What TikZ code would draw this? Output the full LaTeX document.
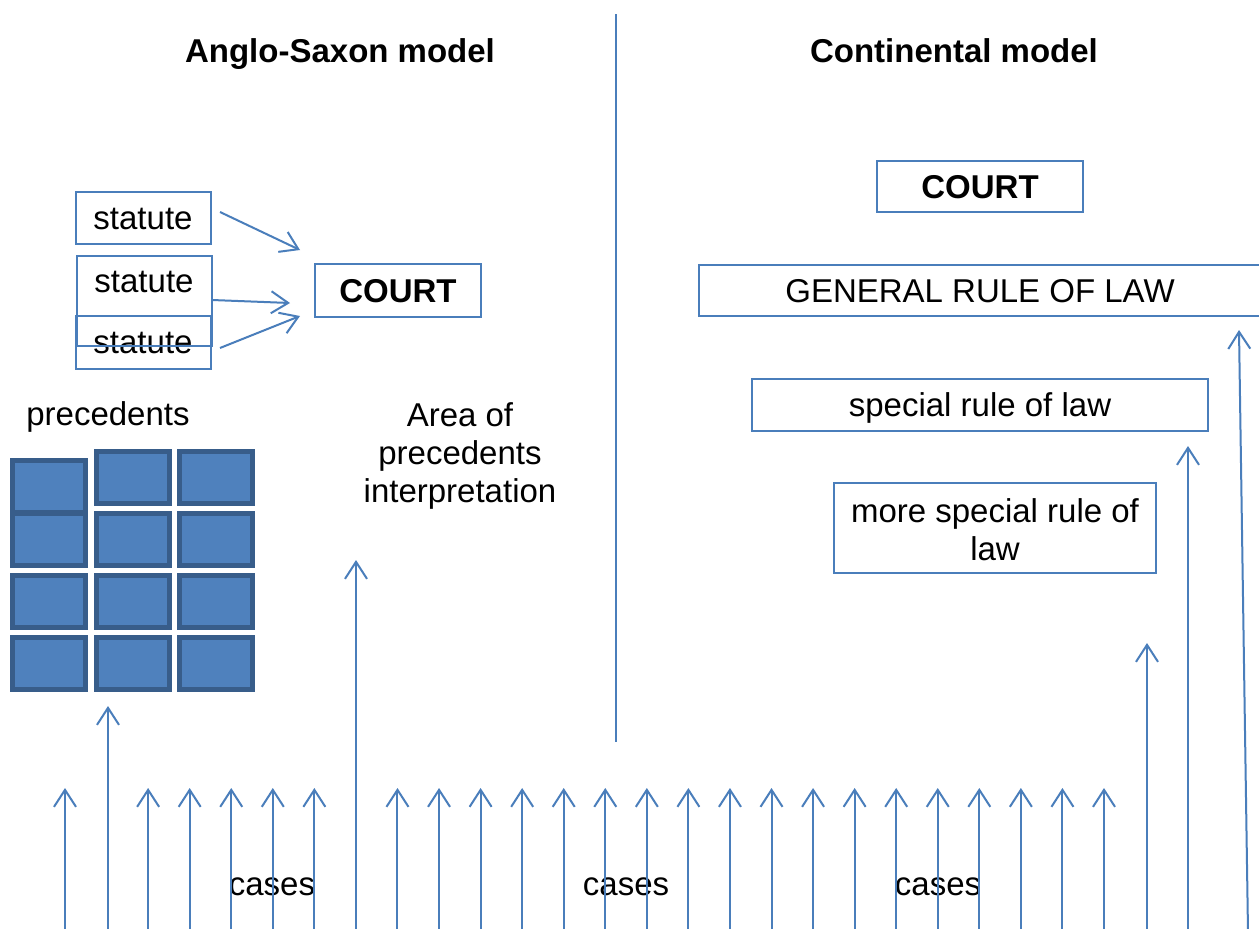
\documentclass[tikz,border=0pt]{standalone}
\usepackage{fontspec}
\setmainfont{Liberation Sans}
\usetikzlibrary{arrows.meta}
\definecolor{lblue}{RGB}{74,126,187}
\definecolor{gfill}{RGB}{79,129,189}
\definecolor{gline}{RGB}{56,93,138}
\tikzset{
  txt/.style={font=\fontsize{33}{38}\selectfont, inner sep=0pt, align=center},
  one/.style={text height=26pt, text depth=3pt},
  boxn/.style={draw=lblue, line width=2pt, inner sep=0pt, font=\fontsize{33}{38}\selectfont, align=center},
  arr/.style={draw=lblue, line width=2pt, -{Straight Barb[length=17pt,width=22pt,line width=2pt]}},
  divline/.style={draw=lblue, line width=2pt},
  cell/.style={draw=gline, fill=gfill, line width=5pt, inner sep=0pt, minimum width=73pt, minimum height=52pt}
}
\begin{document}
\begin{tikzpicture}[x=1pt,y=-1pt]
\clip (0,0) rectangle (1259,929);
\fill[white] (0,0) rectangle (1259,929);

% titles
\node[txt, one, font=\fontsize{33}{38}\selectfont\bfseries] (t1) at (340,50.5) {Anglo-Saxon model};
\node[txt, one, font=\fontsize{33}{38}\selectfont\bfseries] (t2) at (954,50.5) {Continental model};

% divider
\coordinate (dtop) at (616,14);
\coordinate (dbot) at (616,742);
\draw[divline] (dtop) -- (dbot);

% statutes
\node[boxn, one, minimum width=135pt, minimum height=52pt] (s1) at (143,217.5) {statute};
\node[boxn, one, minimum width=135pt, minimum height=53pt] (s3) at (143,342) {statute};
\node[boxn, minimum width=135pt, minimum height=90pt] (s2) at (144,300.5) {};
\node[txt, one] (s2t) at (144,280.5) {statute};

% court left
\node[boxn, one, font=\fontsize{33}{38}\selectfont\bfseries, minimum width=166pt, minimum height=53pt] (cl) at (398,290.5) {COURT};

\coordinate (a1s) at (220,212);
\coordinate (a1e) at (300,250);
\coordinate (a2s) at (212,300);
\coordinate (a2e) at (290,303);
\coordinate (a3s) at (220,348);
\coordinate (a3e) at (300,316);
\draw[arr] (a1s) -- (a1e);
\draw[arr] (a2s) -- (a2e);
\draw[arr] (a3s) -- (a3e);

% precedents
\node[txt, one] (prec) at (108,414) {precedents};
\node[cell] (c21) at (132.5,477) {};
\node[cell] (c31) at (215.5,477) {};
\node[cell] (c11) at (49,486.5) {};
\node[cell] (c12) at (49,539.5) {};
\node[cell] (c22) at (132.5,539.5) {};
\node[cell] (c32) at (215.5,539.5) {};
\node[cell] (c13) at (49,601.5) {};
\node[cell] (c23) at (132.5,601.5) {};
\node[cell] (c33) at (215.5,601.5) {};
\node[cell] (c14) at (49,663.5) {};
\node[cell] (c24) at (132.5,663.5) {};
\node[cell] (c34) at (215.5,663.5) {};

% area text
\node[txt] (area) at (460,456) {Area of\\precedents\\interpretation};

% right side
\node[boxn, one, font=\fontsize{33}{38}\selectfont\bfseries, minimum width=206pt, minimum height=51pt] (cr) at (980,186.5) {COURT};
\node[boxn, one, minimum width=562pt, minimum height=51pt] (gen) at (980,290.5) {GENERAL RULE OF LAW};
\node[boxn, one, minimum width=456pt, minimum height=52pt] (spec) at (980,405) {special rule of law};
\node[boxn, minimum width=322pt, minimum height=90pt] (more) at (995,528) {};
\node[txt] (moret) at (995,530) {more special rule of\\law};

% cases labels
\node[txt, one] (cs1) at (272,883.5) {cases};
\node[txt, one] (cs2) at (626,883.5) {cases};
\node[txt, one] (cs3) at (938,883.5) {cases};

% short arrows
\foreach \k in {0,2,3,4,5,6,8,9,10,11,12,13,14,15,16,17,18,19,20,21,22,23,24,25} {
  \coordinate (b\k) at ({65+41.56*\k},932);
  \coordinate (e\k) at ({65+41.56*\k},788);
  \draw[arr] (b\k) -- (e\k);
}

% long arrows
\coordinate (L1b) at (108,932);  \coordinate (L1e) at (108,706);
\coordinate (L2b) at (356,932);  \coordinate (L2e) at (356,560);
\coordinate (L3b) at (1147,932); \coordinate (L3e) at (1147,643);
\coordinate (L4b) at (1188,932); \coordinate (L4e) at (1188,446);
\coordinate (L5b) at (1248,932); \coordinate (L5e) at (1239,330);
\draw[arr] (L1b) -- (L1e);
\draw[arr] (L2b) -- (L2e);
\draw[arr] (L3b) -- (L3e);
\draw[arr] (L4b) -- (L4e);
\draw[arr] (L5b) -- (L5e);
\end{tikzpicture}
\end{document}
